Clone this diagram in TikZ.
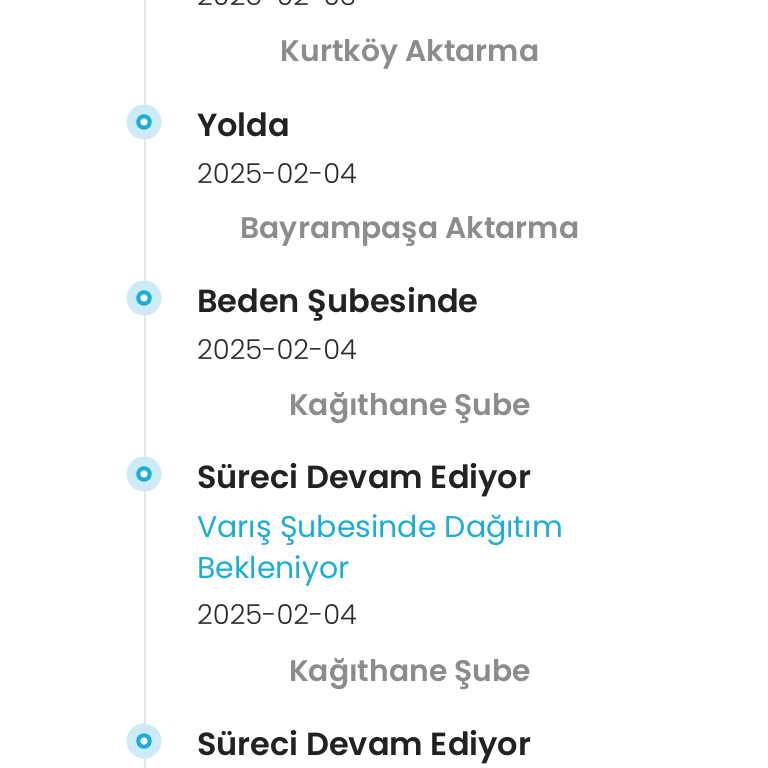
\documentclass[tikz,border=0pt]{standalone}
\usepackage{fontspec}
\setmainfont{Poppins}
\newfontfamily\psemi{Poppins}[UprightFont={* SemiBold}]
\newfontfamily\plight{Poppins}[UprightFont={* Light}]
\definecolor{titlec}{HTML}{222222}
\definecolor{datec}{HTML}{2B2B2B}
\definecolor{grayc}{HTML}{8C8C8C}
\definecolor{bluec}{HTML}{1AADD6}
\definecolor{haloc}{HTML}{CDEBF6}
\definecolor{railc}{HTML}{E6E6E6}
\tikzset{
  titletxt/.style={anchor=base west, inner sep=0pt, font=\psemi\fontsize{32}{38}\selectfont, text=titlec},
  datetxt/.style={anchor=base west, inner sep=0pt, font=\plight\fontsize{27.4}{32}\selectfont, text=datec},
  placetxt/.style={anchor=base, inner sep=0pt, font=\psemi\fontsize{29.8}{35}\selectfont, text=grayc},
  bluetxt/.style={anchor=base west, inner sep=0pt, font=\fontsize{30}{36}\selectfont, text=bluec},
  halo/.style={circle, fill=haloc, minimum size=35pt, inner sep=0pt},
  ring/.style={circle, draw=bluec, line width=4pt, fill=white, minimum size=11.5pt, inner sep=0pt},
}
\begin{document}
\begin{tikzpicture}[x=1pt,y=-1pt]
\useasboundingbox (0,0) rectangle (768,768);
\clip (0,0) rectangle (768,768);
\fill[white] (0,0) rectangle (768,768);
\coordinate (railtop) at (145,-5);
\coordinate (railbot) at (145,775);
\draw[railc, line width=1.5pt] (railtop) -- (railbot);
% dots
\foreach \n/\y in {d1/122, d2/298, d3/474, d4/741}{
  \node[halo] (\n h) at (144,\y) {};
  \node[ring] (\n) at (144,\y) {};
}
% texts
\node[datetxt] (date0) at (197,6) {2025-02-03};
\node[placetxt] (p0) at (410,62) {Kurtköy Aktarma};
\node[titletxt] (t1) at (197,136) {Yolda};
\node[datetxt] (date1) at (197,183) {2025-02-04};
\node[placetxt] (p1) at (410,238) {Bayrampaşa Aktarma};
\node[titletxt] (t2) at (197,312) {Beden Şubesinde};
\node[datetxt] (date2) at (197,359) {2025-02-04};
\node[placetxt] (p2) at (410,415) {Kağıthane Şube};
\node[titletxt] (t3) at (197,488) {Süreci Devam Ediyor};
\node[bluetxt] (b3a) at (197,537) {Varış Şubesinde Dağıtım};
\node[bluetxt] (b3b) at (197,578) {Bekleniyor};
\node[datetxt] (date3) at (197,624) {2025-02-04};
\node[placetxt] (p3) at (410,681) {Kağıthane Şube};
\node[titletxt] (t4) at (197,755) {Süreci Devam Ediyor};
\end{tikzpicture}
\end{document}
